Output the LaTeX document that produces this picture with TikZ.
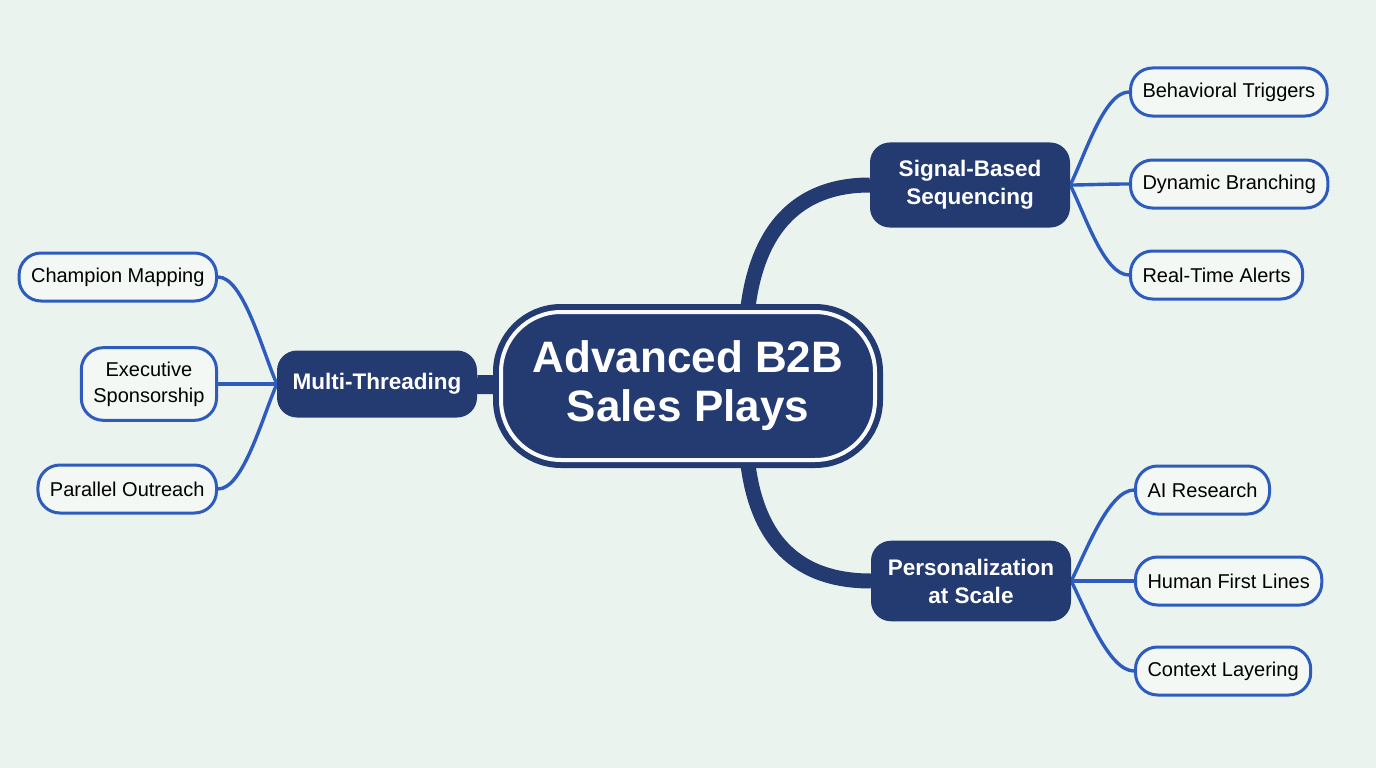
\documentclass[tikz,border=0pt]{standalone}
\usepackage{fontspec}
\setmainfont{Liberation Sans}
\usetikzlibrary{calc}
\definecolor{marino}{HTML}{243B72}
\definecolor{azul}{HTML}{2D5BBE}
\definecolor{fondo}{HTML}{EAF3EE}
\definecolor{hoja}{HTML}{F3F8F5}
\pgfdeclarelayer{back}
\pgfdeclarelayer{links}
\pgfsetlayers{back,links,main}

\begin{document}
\begin{tikzpicture}[x=1pt,y=-1pt,
  every node/.style={font=\fontsize{20}{26}\selectfont},
  core/.style={fill=marino,draw=marino,line width=6pt,double=white!65!fondo,double distance=4pt,
    rounded corners=60pt,minimum width=374pt,minimum height=148pt,text=white,align=center,
    font=\fontsize{44}{49}\selectfont\bfseries},
  branch/.style={fill=marino,rounded corners=20pt,text=white,align=center,minimum width=200pt,
    minimum height=67pt,inner ysep=18pt,font=\fontsize{22.5}{28}\selectfont\bfseries},
  leaf/.style={fill=hoja,draw=azul,line width=3pt,rounded corners=22pt,minimum height=48pt,
    inner xsep=12pt,inner ysep=14pt,align=center},
  trunk/.style={draw=marino,line width=15pt},
  twig/.style={draw=azul,line width=3.4pt}]
  \begin{pgfonlayer}{back}
    \fill[fondo] (0,0) rectangle (1376,768);
  \end{pgfonlayer}
  \useasboundingbox (0,0) rectangle (1376,768);

  % centre and main branches
  \node[core] (core) at (688,386) {Advanced B2B\\Sales Plays};
  \node[branch] (signal) at (970,185) {Signal-Based\\Sequencing};
  \node[branch] (multi) at (377,384) {Multi-Threading};
  \node[branch] (perso) at (971,581) {Personalization\\at Scale};

  % leaves
  \node[leaf,anchor=west] (triggers) at (1129,92) {Behavioral Triggers};
  \node[leaf,anchor=west] (dynamic) at (1129,184) {Dynamic Branching};
  \node[leaf,anchor=west] (alerts) at (1129,275) {Real-Time Alerts};
  \node[leaf,anchor=west] (airesearch) at (1134,490) {AI Research};
  \node[leaf,anchor=west] (firstlines) at (1134,581) {Human First Lines};
  \node[leaf,anchor=west] (layering) at (1134,671) {Context Layering};
  \node[leaf,anchor=east] (champion) at (218,277) {Champion Mapping};
  \node[leaf,anchor=east] (sponsor) at (218,384) {Executive\\Sponsorship};
  \node[leaf,anchor=east] (outreach) at (218,489) {Parallel Outreach};

  \begin{pgfonlayer}{links}
    \draw[trunk] ($(core.north)+(58,20)$) .. controls +(5,-90) and +(-80,0) .. (signal.west);
    \draw[trunk] ($(core.south)+(58,-20)$) .. controls +(5,90) and +(-80,0) .. (perso.west);
    \draw[trunk,line width=19pt] (core) -- (multi);
    \foreach \leafname/\dy in {triggers/-30,dynamic/0,alerts/30}
      \draw[twig] (signal.east) .. controls +(15,\dy) and +(-25,0) .. (\leafname.west);
    \foreach \leafname/\dy in {airesearch/-30,firstlines/0,layering/30}
      \draw[twig] (perso.east) .. controls +(15,\dy) and +(-25,0) .. (\leafname.west);
    \foreach \leafname/\dy in {champion/-35,sponsor/0,outreach/35}
      \draw[twig] (multi.west) .. controls +(-15,\dy) and +(25,0) .. (\leafname.east);
  \end{pgfonlayer}
\end{tikzpicture}
\end{document}
